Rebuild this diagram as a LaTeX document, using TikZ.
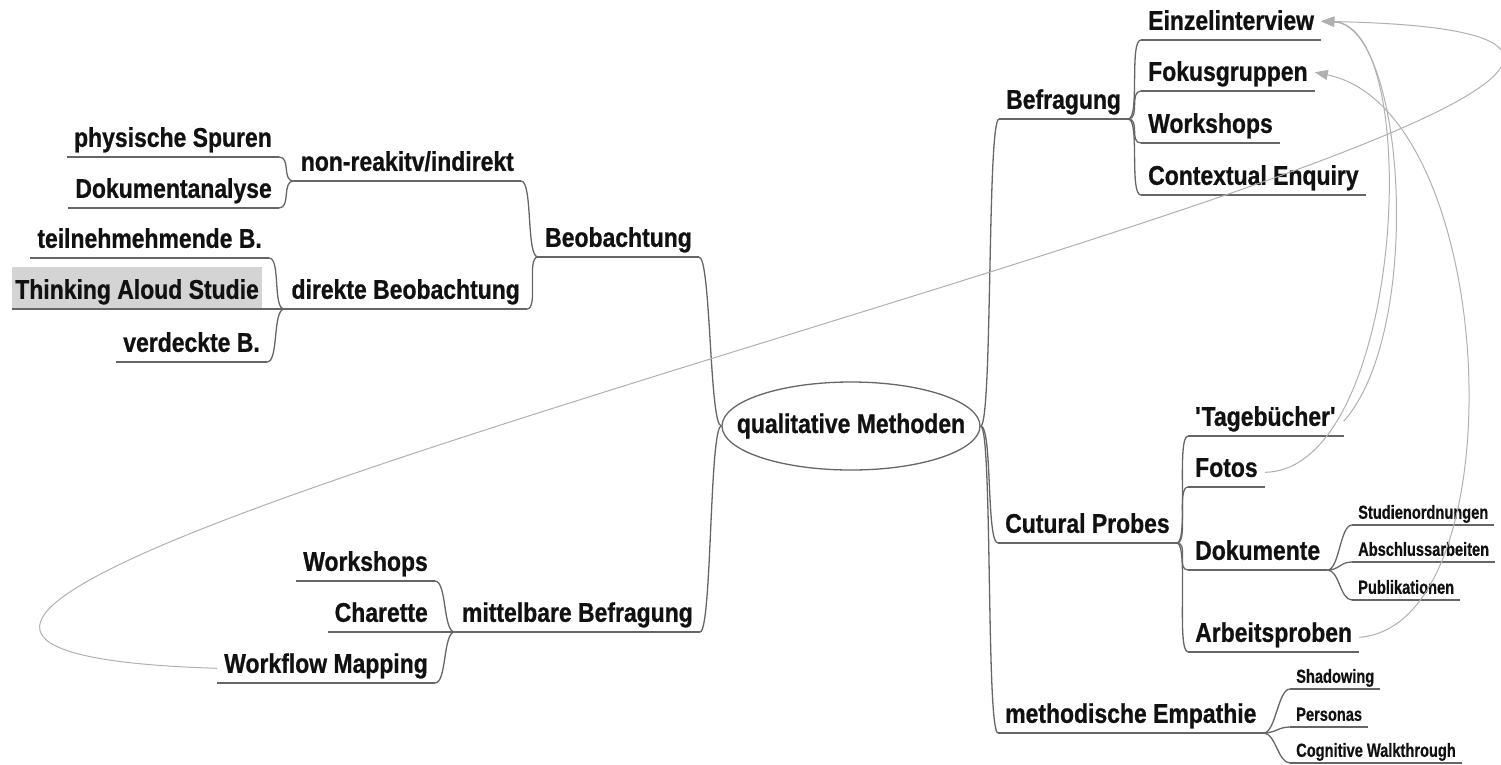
\documentclass[tikz,border=0pt]{standalone}
\usepackage{fontspec}
\usetikzlibrary{shapes.geometric, arrows.meta}
\newfontfamily\bigf{Liberation Sans}[FakeStretch=0.85, FakeBold=0.8]
\newfontfamily\smallf{Liberation Sans}[FakeStretch=0.77, FakeBold=0.6]
\definecolor{treegray}{HTML}{666666}
\definecolor{linkgray}{HTML}{B0B0B0}
\definecolor{boxgray}{HTML}{D4D4D4}
\definecolor{ink}{HTML}{111111}
\newcommand\brc[2]{\draw[tree] (#1) .. controls +(12,0) and +(-12,0) .. (#2);}
\begin{document}
\begin{tikzpicture}[x=1pt,y=-1pt,
  tree/.style={draw=treegray, line width=1.3pt},
  link/.style={draw=linkgray, line width=1pt, -{Triangle[length=13pt,width=10pt]}},
  bigtxt/.style={font=\bigf\bfseries\fontsize{27}{30}\selectfont, text=ink, inner xsep=7pt, inner ysep=0pt, text height=19pt, text depth=10pt},
  smalltxt/.style={font=\smallf\bfseries\fontsize{19}{21}\selectfont, text=ink, inner xsep=6pt, inner ysep=0pt, text height=14pt, text depth=6pt},
  rnode/.style={anchor=south west}, lnode/.style={anchor=south east}]
\useasboundingbox (0,0) rectangle (1501,764);

% centre
\node[ellipse, draw=treegray, line width=1.3pt, minimum width=258pt, minimum height=88pt, inner sep=0pt] (ctr) at (851,426) {};
\node[font=\bigf\bfseries\fontsize{27}{30}\selectfont, text=ink, inner sep=0pt] (ctrtext) at (ctr.center) {qualitative Methoden};

% right side
\node[bigtxt, rnode] (befr) at (999,119) {Befragung};
\node[bigtxt, rnode] (einzel) at (1141,40) {Einzelinterview};
\node[bigtxt, rnode] (fokus) at (1141,91) {Fokusgruppen};
\node[bigtxt, rnode] (workR) at (1141,143) {Workshops};
\node[bigtxt, rnode] (context) at (1141,195) {Contextual Enquiry};
\node[bigtxt, rnode] (cult) at (998,543) {Cutural Probes};
\node[bigtxt, rnode] (tage) at (1188,436) {\textquotesingle Tageb\"ucher\textquotesingle};
\node[bigtxt, rnode] (fotos) at (1188,487) {Fotos};
\node[bigtxt, rnode] (dok) at (1188,570) {Dokumente};
\node[bigtxt, rnode] (arb) at (1188,652) {Arbeitsproben};
\node[bigtxt, rnode] (meth) at (998,733) {methodische Empathie};
\node[smalltxt, rnode] (stud) at (1352,525) {Studienordnungen};
\node[smalltxt, rnode] (absch) at (1352,562) {Abschlussarbeiten};
\node[smalltxt, rnode] (publ) at (1352,600) {Publikationen};
\node[smalltxt, rnode] (shad) at (1290,689) {Shadowing};
\node[smalltxt, rnode] (pers) at (1290,727) {Personas};
\node[smalltxt, rnode] (cogn) at (1290,763) {Cognitive Walkthrough};

% left side
\node[bigtxt, lnode] (beob) at (699,257) {Beobachtung};
\node[bigtxt, lnode] (nonr) at (521,181) {non-reakitv/indirekt};
\node[bigtxt, lnode] (direkt) at (527,309) {direkte Beobachtung};
\node[bigtxt, lnode] (phys) at (279,157) {physische Spuren};
\node[bigtxt, lnode] (dokan) at (279,208) {Dokumentanalyse};
\node[bigtxt, lnode] (teil) at (269,258) {teilnehmehmende B.};
\node[bigtxt, lnode, fill=boxgray, inner xsep=3pt, text height=32pt] (think) at (262,309) {Thinking Aloud Studie};
\node[bigtxt, lnode] (verd) at (267,362) {verdeckte B.};
\node[bigtxt, lnode] (mitt) at (700,632) {mittelbare Befragung};
\node[bigtxt, lnode] (workL) at (435,581) {Workshops};
\node[bigtxt, lnode] (char) at (435,632) {Charette};
\node[bigtxt, lnode] (wfm) at (435,683) {Workflow Mapping};

% underlines
\foreach \n in {befr,einzel,fokus,workR,context,cult,tage,fotos,dok,arb,meth,stud,absch,publ,shad,pers,cogn,
                beob,nonr,direkt,phys,dokan,teil,think,verd,mitt,workL,char,wfm}
  \draw[tree] (\n.south west) -- (\n.south east);

% tree connectors
\brc{ctr.east}{befr.south west}
\brc{ctr.east}{cult.south west}
\brc{ctr.east}{meth.south west}
\brc{beob.south east}{ctr.west}
\brc{mitt.south east}{ctr.west}
\foreach \c in {einzel,fokus,workR,context} {\brc{befr.south east}{\c.south west}}
\foreach \c in {tage,fotos,dok,arb} {\brc{cult.south east}{\c.south west}}
\foreach \c in {stud,absch,publ} {\brc{dok.south east}{\c.south west}}
\foreach \c in {shad,pers,cogn} {\brc{meth.south east}{\c.south west}}
\foreach \c in {nonr,direkt} {\brc{\c.south east}{beob.south west}}
\foreach \c in {phys,dokan} {\brc{\c.south east}{nonr.south west}}
\foreach \c in {teil,think,verd} {\brc{\c.south east}{direkt.south west}}
\foreach \c in {workL,char,wfm} {\brc{\c.south east}{mitt.south west}}

% cross links
\draw[link] (wfm.west) .. controls (-690,640) and (2220,40) .. ([yshift=4pt]einzel.east);
\draw[link] (tage.east) .. controls (1425,330) and (1405,25) .. ([yshift=4pt]einzel.east);
\draw[link] (fotos.east) .. controls (1405,470) and (1425,25) .. ([yshift=4pt]einzel.east);
\draw[link] (arb.east) .. controls (1520,625) and (1500,110) .. ([yshift=4pt]fokus.east);
\end{tikzpicture}
\end{document}
